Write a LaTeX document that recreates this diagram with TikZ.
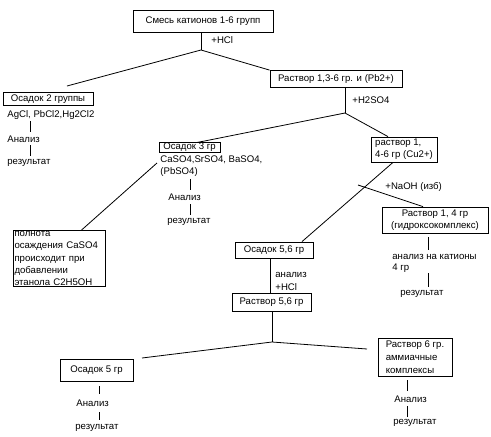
\documentclass[tikz,border=0pt]{standalone}
\usepackage{fontspec}
\setmainfont{Liberation Sans}
\begin{document}
\begin{tikzpicture}[
  x=1pt,y=-1pt,
  font=\fontsize{9.6}{13}\selectfont,
  line width=0.8pt,
  box/.style={draw, align=center, inner sep=2pt},
  lbox/.style={draw, align=left, inner sep=2pt},
  txt/.style={inner sep=1pt, anchor=west},
  link/.style={line width=0.8pt}
]
\useasboundingbox (0,0) rectangle (491,437);
% top level
\node[box, minimum width=140pt, minimum height=22pt] (mix) at (203,21) {Смесь катионов 1-6 групп};
\node[txt] (hcl) at (210,40) {+HCl};
\coordinate (j1) at (201,50);
\coordinate (e2) at (67,86);
\draw[link] (mix.south -| j1) -- (j1);
\draw[link] (j1) -- (e2);
\node[box, minimum width=132pt, minimum height=17pt] (r136) at (336,79) {Раствор 1,3-6 гр. и (Pb2+)};
\draw[link] (j1) -- (r136.north west);
% group 2
\node[box, minimum width=90pt, minimum height=13pt, inner sep=1pt] (os2) at (48,99) {Осадок 2 группы};
\node[txt] (agcl) at (6,115) {AgCl, PbCl2,Hg2Cl2};
\node[txt] (an2) at (6,139) {Анализ};
\node[txt] (res2) at (6,163) {результат};
\draw[link] (30,121) -- (30,132);
\draw[link] (30,145) -- (30,156);
% +H2SO4
\coordinate (j2) at (345,113);
\node[txt] (h2so4) at (351,100) {+H2SO4};
\draw[link] (r136.south -| j2) -- (j2);
% group 3
\node[box, inner sep=0.5pt, minimum width=61pt, minimum height=10pt] (os3) at (189.5,147.5) {Осадок 3 гр};
\draw[link] (j2) -- (197,142.5);
\node[txt] (caso) at (159,160) {CaSO4,SrSO4, BaSO4,};
\node[txt] (pbso) at (159,172) {(PbSO4)};
\node[txt] (an3) at (167,197) {Анализ};
\node[txt] (res3) at (166,222) {результат};
\draw[link] (190,179) -- (190,190);
\draw[link] (190,204) -- (190,215);
\node[lbox, inner sep=1pt, text width=90pt, font=\fontsize{9.6}{12.2}\selectfont] (note) at (59.5,258.5)
  {полнота\\осаждения CaSO4\\происходит при\\добавлении\\этанола C2H5OH};
\coordinate (c3) at (157,163);
\draw[link] (c3) -- ([xshift=22pt]note.north);
% groups 1,4-6
\node[lbox, minimum width=66pt, minimum height=25pt, inner sep=1.5pt, font=\fontsize{9.6}{12}\selectfont] (r146) at (404,149.5) {раствор 1,\\4-6 гр (Cu2+)};
\draw[link] (j2) -- ([xshift=-16pt]r146.north);
\node[txt] (naoh) at (384,187) {+NaOH (изб)};
\node[box, minimum width=106pt, minimum height=26pt, inner sep=1.5pt, font=\fontsize{9.6}{12}\selectfont] (r14) at (435,220) {Раствор 1, 4 гр\\(гидроксокомплекс)};
\node[box, minimum width=78pt, minimum height=16pt] (os56) at (274,250) {Осадок 5,6 гр};
\coordinate (j3) at (358,185);
\draw[link] ([xshift=-11pt]r146.south) -- ([xshift=28pt]os56.north);
\draw[link] (j3) -- ([xshift=-12pt]r14.north);
% groups 1,4 analysis
\node[txt] (an14) at (391,257) {анализ на катионы};
\node[txt] (gr4) at (391,268) {4 гр};
\node[txt] (res14) at (399,294) {результат};
\draw[link] (428,237) -- (428,250);
\draw[link] (428,273) -- (428,287);
% groups 5,6
\node[txt] (an56) at (274,275) {анализ};
\node[txt] (hcl56) at (274,287) {+HCl};
\node[box, minimum width=79pt, minimum height=18pt] (r56) at (271.5,302) {Раствор 5,6 гр};
\draw[link] (os56.south -| 270,0) -- (r56.north -| 270,0);
\coordinate (j4) at (272,342);
\draw[link] (r56.south -| j4) -- (j4);
\node[box, minimum width=73pt, minimum height=22pt] (os5) at (96.5,370) {Осадок 5 гр};
\node[lbox, minimum width=74pt, minimum height=38pt, inner sep=1.5pt, font=\fontsize{9.6}{12.8}\selectfont] (r6) at (415,357) {Раствор 6 гр.\\аммиачные\\комплексы};
\coordinate (e5) at (142,358);
\coordinate (e6) at (367,349);
\draw[link] (j4) -- (e5);
\draw[link] (j4) -- (e6);
% group 5 analysis
\node[txt] (an5) at (75,403) {Анализ};
\node[txt] (res5) at (74,428) {результат};
\draw[link] (99,386) -- (99,394);
\draw[link] (99,412) -- (99,420);
% group 6 analysis
\node[txt] (an6) at (393,399) {Анализ};
\node[txt] (res6) at (392,423) {результат};
\draw[link] (407,380) -- (407,391);
\draw[link] (407,406) -- (407,417);
\end{tikzpicture}
\end{document}
